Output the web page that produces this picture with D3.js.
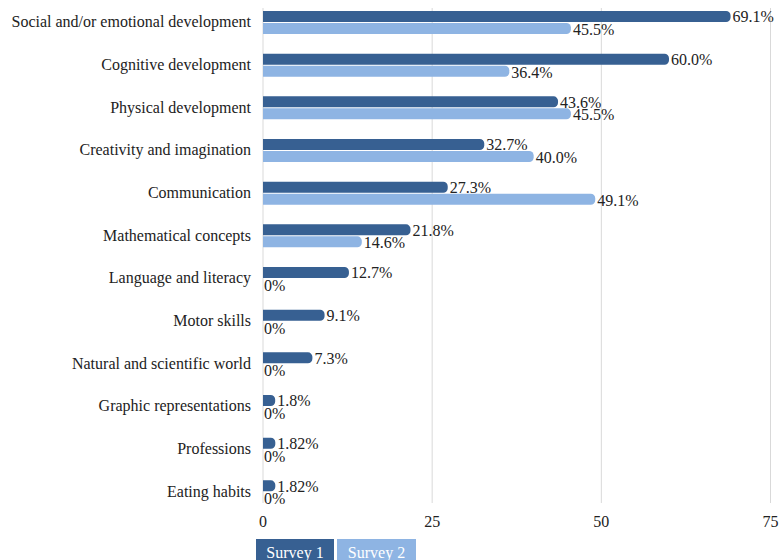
<!DOCTYPE html>
<html>
<head>
<meta charset="utf-8">
<script src="https://cdn.jsdelivr.net/npm/d3@7"></script>
<style>
  body { margin: 0; background: #fff; }
</style>
</head>
<body>
<div id="chart"></div>
<script>
// chart data
var categories = [
  'Social and/or emotional development',
  'Cognitive development',
  'Physical development',
  'Creativity and imagination',
  'Communication',
  'Mathematical concepts',
  'Language and literacy',
  'Motor skills',
  'Natural and scientific world',
  'Graphic representations',
  'Professions',
  'Eating habits'
]
var survey1 = [69.1, 60.0, 43.6, 32.7, 27.3, 21.8, 12.7, 9.1, 7.3, 1.8, 1.82, 1.82]
var survey2 = [45.5, 36.4, 45.5, 40.0, 49.1, 14.6, 0, 0, 0, 0, 0, 0]
var survey1Labels = ['69.1%', '60.0%', '43.6%', '32.7%', '27.3%', '21.8%', '12.7%', '9.1%', '7.3%', '1.8%', '1.82%', '1.82%']
var survey2Labels = ['45.5%', '36.4%', '45.5%', '40.0%', '49.1%', '14.6%', '0%', '0%', '0%', '0%', '0%', '0%']
var seriesNames = ['Survey 1', 'Survey 2']
var xTicks = [0, 25, 50, 75]

var colors = ['#376092', '#8eb4e3']
var serif = "'Liberation Serif'"

var width = 781
var height = 560

var svg = d3.select('#chart')
  .append('svg')
  .attr('width', width)
  .attr('height', height)

var x = d3.scaleLinear().domain([0, 75]).range([263, 770.5])
var y = d3.scaleBand().domain(categories).range([1, 513]).padding(0)

// gridlines
svg.append('g')
  .selectAll('line')
  .data(xTicks)
  .enter()
  .append('line')
  .attr('x1', function(d) { return x(d) })
  .attr('x2', function(d) { return x(d) })
  .attr('y1', 8)
  .attr('y2', 503)
  .attr('stroke', '#d9d9d9')
  .attr('stroke-width', 1)

// tick labels
svg.append('g')
  .selectAll('text')
  .data(xTicks)
  .enter()
  .append('text')
  .attr('x', function(d) { return x(d) })
  .attr('y', 527)
  .attr('text-anchor', 'middle')
  .style('font-family', serif)
  .style('font-size', '16px')
  .attr('fill', '#222')
  .text(function(d) { return d })

// category labels
svg.append('g')
  .selectAll('text')
  .data(categories)
  .enter()
  .append('text')
  .attr('x', 251)
  .attr('y', function(d) { return y(d) + y.bandwidth() / 2 + 5 })
  .attr('text-anchor', 'end')
  .style('font-family', serif)
  .style('font-size', '16px')
  .attr('fill', '#222')
  .text(function(d) { return d })

// bar with rounded right end
function barPath(x0, x1, top, h) {
  var w = x1 - x0
  var r = Math.min(4.5, h / 2, w)
  if (w <= 0) return ''
  return 'M' + x0 + ',' + top +
    'H' + (x1 - r) +
    'A' + r + ',' + r + ' 0 0 1 ' + x1 + ',' + (top + r) +
    'V' + (top + h - r) +
    'A' + r + ',' + r + ' 0 0 1 ' + (x1 - r) + ',' + (top + h) +
    'H' + x0 + 'Z'
}

var rows = categories.map(function(c, i) {
  return { cat: c, v: [survey1[i], survey2[i]], l: [survey1Labels[i], survey2Labels[i]] }
})

var barH = 11
var offsets = [-11.3, 0.7]
var labelDy = [0, 12.7]

var groups = svg.append('g')
  .selectAll('g')
  .data(rows)
  .enter()
  .append('g')
  .attr('transform', function(d) { return 'translate(0,' + (y(d.cat) + y.bandwidth() / 2) + ')' })

;[0, 1].forEach(function(s) {
  groups.append('path')
    .attr('d', function(d) { return barPath(x(0), x(d.v[s]), offsets[s], barH) })
    .attr('fill', colors[s])

  groups.append('text')
    .attr('x', function(d) { return x(d.v[s]) + (d.v[s] > 0 ? 2 : 1) })
    .attr('y', labelDy[s])
    .style('font-family', serif)
    .style('font-size', '16px')
    .attr('fill', '#222')
    .text(function(d) { return d.l[s] })
})

// legend
var legendX = [256, 337]
var legendW = [78, 79]
var legend = svg.append('g')
  .selectAll('g')
  .data(seriesNames)
  .enter()
  .append('g')

legend.append('rect')
  .attr('x', function(d, i) { return legendX[i] })
  .attr('y', 539)
  .attr('width', function(d, i) { return legendW[i] })
  .attr('height', 25)
  .attr('fill', function(d, i) { return colors[i] })

legend.append('text')
  .attr('x', function(d, i) { return legendX[i] + legendW[i] / 2 })
  .attr('y', 558)
  .attr('text-anchor', 'middle')
  .style('font-family', serif)
  .style('font-size', '16px')
  .attr('fill', '#fff')
  .text(function(d) { return d })
</script>
</body>
</html>
